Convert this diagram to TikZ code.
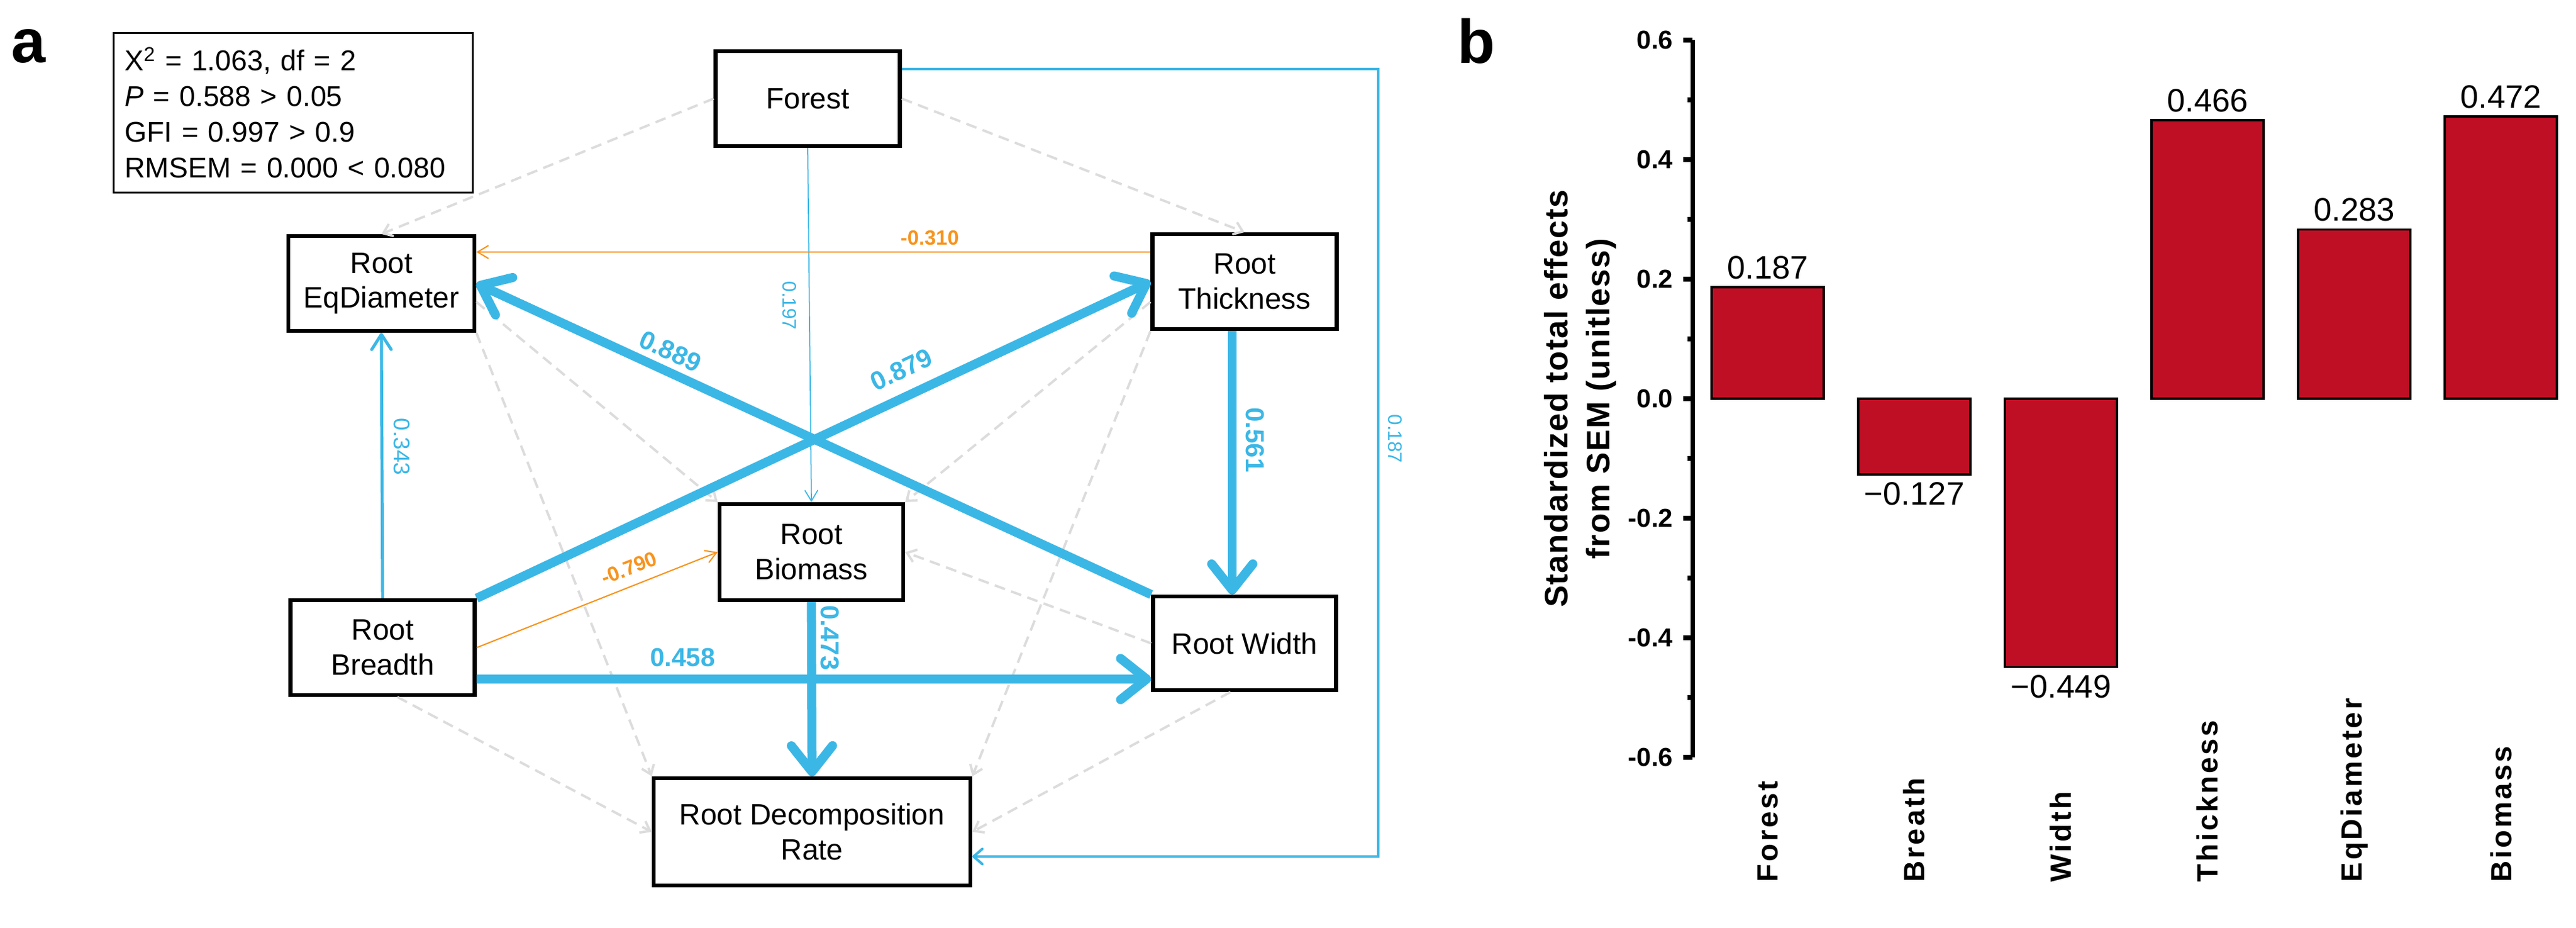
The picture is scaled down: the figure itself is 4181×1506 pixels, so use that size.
\documentclass[tikz,border=0pt]{standalone}
\usepackage{fontspec}
\setmainfont{Liberation Sans}
\usetikzlibrary{arrows.meta}
\definecolor{semblue}{HTML}{3BB7E6}
\definecolor{semorange}{HTML}{F7941E}
\definecolor{semgray}{HTML}{DCDCDC}
\definecolor{barred}{HTML}{BE0F24}
\begin{document}
\begin{tikzpicture}[x=0.1mm,y=-0.1mm,
  varbox/.style={draw=black,line width=1.8pt,fill=white,align=center,inner sep=0pt,font=\fontsize{13.6}{16.2}\selectfont},
  sigthick/.style={draw=semblue,line width=4.2pt,-{Straight Barb[length=12pt,width=19pt,round]}},
  sigmid/.style={draw=semblue,line width=1.4pt,-{Straight Barb[length=7pt,width=9pt,round]}},
  sigloop/.style={draw=semblue,line width=1.2pt,-{Straight Barb[length=4pt,width=7pt,round]}},
  sigthin/.style={draw=semblue,line width=0.5pt,-{Straight Barb[length=5pt,width=6pt]}},
  negthin/.style={draw=semorange,line width=0.6pt,-{Straight Barb[length=5pt,width=6pt]}},
  nspath/.style={draw=semgray,line width=1.1pt,dash pattern=on 5pt off 3pt,-{Straight Barb[length=4pt,width=6pt]}},
  thicklbl/.style={text=semblue,font=\bfseries\fontsize{12}{12}\selectfont,inner sep=0pt},
  thinlbl/.style={text=semblue,font=\fontsize{9}{9}\selectfont,inner sep=0pt},
  neglbl/.style={text=semorange,font=\bfseries\fontsize{9.5}{9.5}\selectfont,inner sep=0pt},
  panellbl/.style={font=\bfseries\fontsize{28.5}{28.5}\selectfont,anchor=base,inner sep=0pt},
  ticklbl/.style={font=\bfseries\fontsize{12}{12}\selectfont,anchor=east,inner sep=0pt},
  vallbl/.style={font=\fontsize{15}{15}\selectfont,inner sep=0pt},
  catlbl/.style={font=\bfseries\fontsize{13.5}{13.5}\selectfont\addfontfeature{LetterSpace=8},rotate=90,anchor=west,inner sep=0pt},
  effbar/.style={draw=black,line width=1.1pt,fill=barred},
  axisline/.style={line width=2pt}
]
\useasboundingbox (0,0) rectangle (4181,1506);
\fill[white] (0,0) rectangle (4181,1506);

% ---------------- panel a ----------------
\node (pa) [panellbl] at (46,102) {a};
\node (stats) [draw,line width=0.8pt,anchor=north west,minimum width=58.3mm,minimum height=25.9mm,
  text width=54.7mm,inner xsep=1.8mm,inner ysep=0pt,align=left,font=\fontsize{13.2}{16.5}\selectfont]
  at (183,52) {X\textsuperscript{2} = 1.063, df = 2\\\textit{P} = 0.588 > 0.05\\GFI = 0.997 > 0.9\\RMSEM = 0.000 < 0.080};

\node (forest)  [varbox,minimum width=29.9mm,minimum height=15.4mm] at (1311,160) {Forest};
\node (eqd)     [varbox,minimum width=30.2mm,minimum height=15.4mm] at (619,460) {Root\\EqDiameter};
\node (rthick)  [varbox,minimum width=29.9mm,minimum height=15.4mm] at (2020,457) {Root\\Thickness};
\node (biomass) [varbox,minimum width=29.8mm,minimum height=15.6mm] at (1317,896) {Root\\Biomass};
\node (breadth) [varbox,minimum width=29.9mm,minimum height=15.4mm] at (621,1051) {Root\\Breadth};
\node (rwidth)  [varbox,minimum width=29.7mm,minimum height=15.2mm] at (2020,1044) {Root Width};
\node (decomp)  [varbox,minimum width=51.4mm,minimum height=17.4mm] at (1318,1350) {Root Decomposition\\Rate};
\coordinate (loopcol) at (2237,0);

% non-significant paths
\draw[nspath] (forest.west) -- (eqd.north);
\draw[nspath] (forest.east) -- (rthick.north);
\draw[nspath] ([yshift=-3mm]eqd.east) -- (biomass.north west);
\draw[nspath] (eqd.south east) -- (decomp.north west);
\draw[nspath] ([yshift=-3.3mm]rthick.west) -- (biomass.north east);
\draw[nspath] (rthick.south west) -- (decomp.north east);
\draw[nspath] ([xshift=2.4mm]breadth.south) -- (decomp.west);
\draw[nspath] (rwidth.west) -- (biomass.east);
\draw[nspath] ([xshift=-2.3mm]rwidth.south) -- (decomp.east);

% significant paths
\draw[sigthin] (forest.south) -- (biomass.north);
\draw[sigloop] ([yshift=4.8mm]forest.east) coordinate (fe) -- (fe -| loopcol) |- ([yshift=-4mm]decomp.east);
\draw[sigmid] (breadth.north) -- (eqd.south);
\draw[sigthick] (breadth.north east) -- (rthick.west);
\draw[sigthick] (rwidth.north west) -- (eqd.east);
\draw[sigthick] ([xshift=-2mm]rthick.south) -- ([xshift=-2mm]rwidth.north);
\draw[sigthick] ([yshift=-5.1mm]breadth.east) -- ([yshift=-5.8mm]rwidth.west);
\draw[sigthick] (biomass.south) -- (decomp.north);
\draw[negthin] ([yshift=4.8mm]rthick.west) -- ([yshift=5.1mm]eqd.east);
\draw[negthin] (breadth.east) -- (biomass.west);

% path labels
\node (l889) [thicklbl,rotate=-24.7] at (1088,570) {0.889};
\node (l879) [thicklbl,rotate=25.3] at (1463,600) {0.879};
\node (l561) [thicklbl,rotate=-90] at (2037,714) {0.561};
\node (l458) [thicklbl] at (1108,1067) {0.458};
\node (l473) [thicklbl,rotate=-90] at (1347,1035) {0.473};
\node (l343) [thinlbl,font=\fontsize{10.5}{10.5}\selectfont,rotate=-90] at (652,725) {0.343};
\node (l197) [thinlbl,rotate=-90] at (1281,496) {0.197};
\node (l187) [thinlbl,rotate=-90] at (2264,712) {0.187};
\node (l310) [neglbl] at (1509,386) {-0.310};
\node (l790) [neglbl,rotate=21.4] at (1021,922) {-0.790};

% ---------------- panel b ----------------
\node (pb) [panellbl] at (2396,103) {b};
\node (ytitle) [rotate=90,align=center,font=\bfseries\fontsize{15}{19.3}\selectfont\addfontfeature{LetterSpace=3},inner sep=0pt] at (2565,647)
  {Standardized total effects\\from SEM (unitless)};
\draw[axisline] (2747,65) -- (2747,1229);
\foreach \v/\t [count=\k] in {0.6/0.6,0.4/0.4,0.2/0.2,0/0.0,-0.2/-0.2,-0.4/-0.4,-0.6/-0.6}{
  \draw[axisline] (2732,{647-970*\v}) -- (2747,{647-970*\v});
  \node (tick\k) [ticklbl] at (2716,{647-970*\v}) {\t};
}
\foreach \v in {0.5,0.3,0.1,-0.1,-0.3,-0.5}
  \draw[axisline] (2739,{647-970*\v}) -- (2747,{647-970*\v});
\foreach \val/\cat [count=\k from 0] in {0.187/Forest,-0.127/Breath,-0.449/Width,0.466/Thickness,0.283/EqDiameter,0.472/Biomass}{
  \pgfmathsetmacro{\cx}{2869+238*\k}
  \draw[effbar] ({\cx-91},647) rectangle ({\cx+91},{647-970*\val});
  \node (cat\k) [catlbl] at (\cx,1432) {\cat};
}
\node (v0) [vallbl,anchor=south] at (2869,454) {0.187};
\node (v1) [vallbl,anchor=north] at (3107,782) {−0.127};
\node (v2) [vallbl,anchor=north] at (3345,1095) {−0.449};
\node (v3) [vallbl,anchor=south] at (3583,183) {0.466};
\node (v4) [vallbl,anchor=south] at (3821,360) {0.283};
\node (v5) [vallbl,anchor=south] at (4059,177) {0.472};
\end{tikzpicture}
\end{document}
